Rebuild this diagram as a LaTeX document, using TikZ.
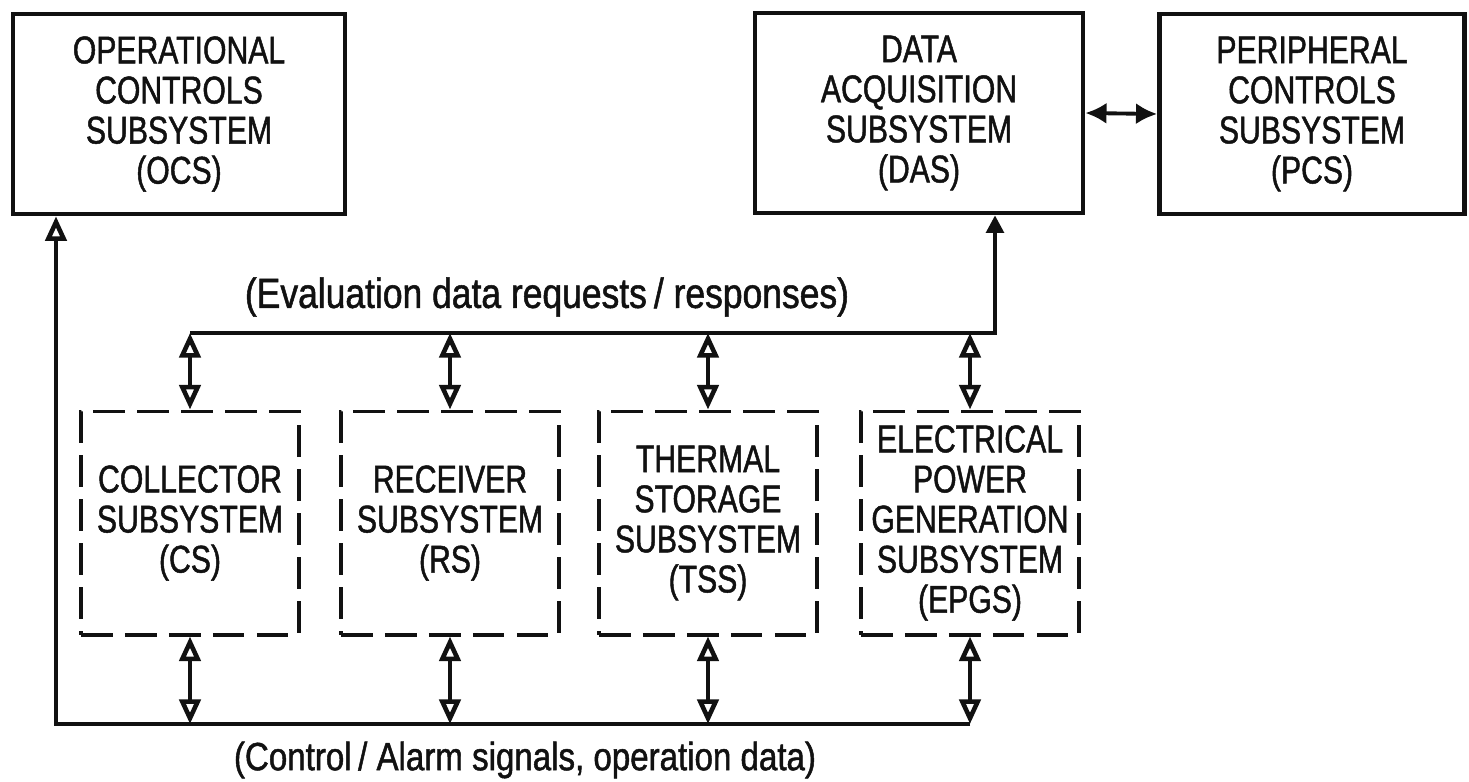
\documentclass[tikz,border=0pt]{standalone}
\usepackage{fontspec}
\setmainfont{Liberation Sans}[FakeStretch=0.78,FakeBold=1.2]
\newfontfamily\notefont{Liberation Sans}[FakeStretch=0.84,FakeBold=1.2]
\usetikzlibrary{arrows.meta}
\definecolor{ink}{HTML}{111111}

\begin{document}
\begin{tikzpicture}[x=0.01cm,y=-0.01cm,
  font=\fontsize{11}{11.4}\selectfont,text=ink,
  block/.style={draw=ink,line width=1.3pt,align=center,
    minimum height=2.0cm,inner sep=2pt},
  subblock/.style={draw=ink,line width=1.1pt,
    dash pattern=on 9pt off 3.5pt,align=center,
    minimum width=2.18cm,minimum height=2.23cm,inner sep=2pt},
  note/.style={font=\notefont\fontsize{12}{14}\selectfont},
  link/.style={draw=ink,line width=1.1pt},
  tip/.style={-{Triangle[open,length=7pt,width=6pt,line width=1.3pt]}},
  duplex/.style={link,{Triangle[open,length=7pt,width=6pt,line width=1.3pt]}-{Triangle[open,length=7pt,width=6pt,line width=1.3pt]}}]
  \useasboundingbox (0,0) rectangle (1469,782);

  % top row: the three controlling subsystems
  \node[block,minimum width=3.32cm] (ocs) at (179,114)
    {OPERATIONAL\\CONTROLS\\SUBSYSTEM\\(OCS)};
  \node[block,minimum width=3.28cm] (das) at (919,113)
    {DATA\\ACQUISITION\\SUBSYSTEM\\(DAS)};
  \node[block,minimum width=3.05cm] (pcs) at (1312,114)
    {PERIPHERAL\\CONTROLS\\SUBSYSTEM\\(PCS)};
  \draw[link,{Latex[length=6pt,width=6pt]}-{Latex[length=6pt,width=6pt]}]
    (das.east) -- (pcs.west);

  % plant subsystems
  \foreach \n/\x/\txt in {cs/190/{COLLECTOR\\SUBSYSTEM\\(CS)},
      rs/450/{RECEIVER\\SUBSYSTEM\\(RS)},
      tss/708/{THERMAL\\STORAGE\\SUBSYSTEM\\(TSS)},
      epgs/970/{ELECTRICAL\\POWER\\GENERATION\\SUBSYSTEM\\(EPGS)}}
    \node[subblock] (\n) at (\x,523) {\txt};

  % evaluation bus up to the DAS
  \coordinate (evL) at (190,333);
  \coordinate (evR) at (995,333);
  \draw[link,-{Triangle[length=5pt,width=5pt]}]
    (evL) -- (evR) -- (das.south -| evR);
  \node[note] (evlabel) at (547,297) {(Evaluation data requests\,/ responses)};
  \foreach \n in {cs,rs,tss,epgs}
    \draw[duplex] (\n.north |- evL) -- (\n.north);

  % operations bus back to the OCS
  \coordinate (opL) at (56,724);
  \coordinate (opR) at (970,724);
  \draw[link,tip] (opR) -- (opL) -- (ocs.south -| opL);
  \foreach \n in {cs,rs,tss,epgs}
    \draw[duplex] (\n.south) -- (\n.south |- opL);
  \node[note,font=\notefont\fontsize{11.2}{14}\selectfont] (oplabel) at (525,760)
    {(Control\,/ Alarm signals, operation data)};
\end{tikzpicture}
\end{document}
